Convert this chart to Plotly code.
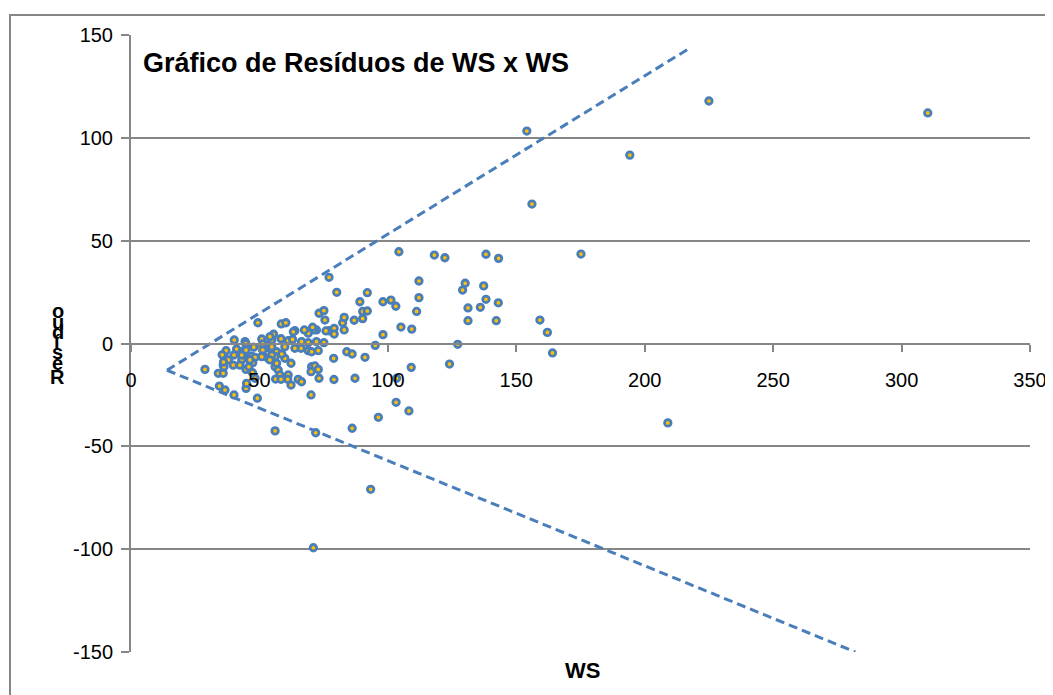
import plotly.graph_objects as go

# ---- data ----
ws = [
    310.2, 225.0, 194.2, 154.1, 156.1, 175.2, 209.0, 164.1, 162.1, 159.2,
    104.3, 118.1, 122.2, 138.2, 143.1, 112.1, 130.1, 129.1, 137.3, 112.1,
    138.2, 143.0, 98.1, 101.2, 103.1, 111.2, 131.2, 136.0, 98.1, 105.1,
    109.3, 131.2, 142.2, 127.2, 109.1, 124.0, 103.4, 103.2, 108.2, 96.3,
    95.1, 91.1, 92.0, 89.1, 90.2, 92.0, 90.2, 86.1, 93.3, 71.0,
    77.1, 80.1, 73.2, 75.1, 75.5, 82.4, 83.0, 86.9, 77.1, 79.1,
    79.1, 83.0, 84.0, 86.1, 87.2, 79.0, 73.2, 78.9, 70.3, 71.6,
    72.9, 70.1, 70.1, 71.9, 56.1,
    72.2, 71.1, 69.0, 67.5, 63.8, 72.2, 75.1, 69.0, 66.4, 72.9,
    69.0, 66.2, 63.8, 70.7, 70.3, 75.9,
    61.2, 58.4, 62.9, 59.9, 62.3, 56.1, 57.3, 58.0, 61.2, 61.0,
    62.3, 56.3, 58.4, 65.1, 66.4, 49.4, 58.5, 60.3, 63.2, 55.5,
    40.2, 44.4, 44.9, 41.1, 37.0, 36.6, 37.9, 35.9, 39.8, 40.1,
    43.5, 43.1, 45.7, 47.0, 47.8, 50.9, 51.3, 51.3, 53.9, 54.8,
    54.4, 51.5, 48.3, 47.4, 44.8, 45.9, 56.7, 56.1, 53.4, 59.9,
    58.7,
    28.8, 34.0, 35.9, 34.4, 36.6, 40.1, 49.2, 44.8, 45.0, 48.3,
    47.3,
    43.1, 44.8, 36.2, 46.3, 42.4, 54.1, 54.8, 54.8, 50.9, 54.1,
    56.7, 35.5, 36.0, 44.7,
]
residuo = [
    112.1, 117.9, 91.6, 103.3, 67.8, 43.5, -38.6, -4.6, 5.4, 11.4,
    44.6, 43.0, 41.7, 43.4, 41.4, 30.4, 29.3, 26.0, 28.0, 22.3,
    21.5, 19.8, 20.3, 21.1, 18.1, 15.6, 17.3, 17.6, 4.3, 8.0,
    7.0, 11.1, 11.1, -0.4, -11.6, -10.0, -16.9, -28.6, -32.8, -35.9,
    -0.9, -6.7, 24.7, 20.3, 15.6, 15.8, 12.1, -41.2, -70.9, -99.3,
    32.2, 24.9, 14.7, 16.0, 11.4, 10.1, 12.7, 11.3, 6.2, 7.4,
    4.6, 6.6, -4.0, -5.1, -16.9, -17.5, -16.9, -7.2, -11.3, -10.9,
    -12.6, -13.7, -25.0, -43.4, -42.5,
    6.6, 6.6, 5.0, 6.6, 6.2, 0.9, 0.4, 0.4, 0.9, -3.5,
    -3.5, -2.3, -2.3, 7.9, -4.0, 6.1,
    1.4, 2.3, 2.0, -7.2, -9.6, -11.3, -12.9, -15.3, -15.3, -17.4,
    -20.2, -17.3, -17.4, -17.4, -18.6, 10.1, 9.5, 10.1, 5.7, 4.5,
    1.7, 0.9, -1.6, -2.7, -3.5, -7.2, -8.0, -10.5, -10.5, -5.6,
    -4.0, -8.0, -7.2, -6.1, -1.8, 2.2, -0.2, -3.2, -0.2, 1.7,
    -2.8, -6.1, -6.7, -9.3, -12.6, -11.3, -4.0, -6.4, -7.2, -1.6,
    -5.1,
    -12.6, -14.5, -14.5, -20.7, -22.6, -25.0, -26.6, -21.8, -19.4, -16.9,
    -14.2,
    -5.6, -3.2, -11.3, -8.0, -10.5, 3.3, -1.6, -5.6, -6.4, -8.0,
    -9.6, -5.5, -9.0, 0.0,
]

upper_x = [14, 218]
upper_y = [-13, 144]
lower_x = [14, 282]
lower_y = [-13, -150]

x_ticks = [0, 50, 100, 150, 200, 250, 300, 350]
y_ticks = [-150, -100, -50, 0, 50, 100, 150]

title_text = "Gráfico de Resíduos de WS x WS"
x_title = "WS"
y_title = "Resíduo"

# ---- style ----
BLUE = "#4A7EBB"
YELLOW = "#FFC000"
GRID = "#868686"
FONT = "Liberation Sans, Arial, sans-serif"

OFF = 8  # default page body margin in the written html
W, H = 1053 - OFF, 695 - OFF
ML, MR, MT, MB = 131 - OFF, 23, 35 - OFF, 43
PW = W - ML - MR
PH = H - MT - MB

fig = go.Figure()
for lx, ly in ((upper_x, upper_y), (lower_x, lower_y)):
    fig.add_trace(go.Scatter(
        x=lx, y=ly, mode="lines",
        line=dict(color=BLUE, width=3, dash="9px,5px"),
        hoverinfo="skip", showlegend=False, cliponaxis=False,
    ))

fig.add_trace(go.Scatter(
    x=ws, y=residuo, mode="markers",
    marker=dict(symbol="circle", size=6.5, color=YELLOW,
                line=dict(color=BLUE, width=2.8)),
    showlegend=False, cliponaxis=False,
))

fig.update_layout(
    width=W, height=H,
    margin=dict(l=ML, r=MR, t=MT, b=MB, autoexpand=False),
    paper_bgcolor="white", plot_bgcolor="white",
    font=dict(family=FONT, color="black", size=20),
    showlegend=False,
)

fig.update_xaxes(
    range=[0, 350], tickvals=x_ticks, ticktext=[str(v) for v in x_ticks],
    showgrid=False, zeroline=False,
    showline=True, linecolor=GRID, linewidth=2,
    ticks="outside", ticklen=7, tickwidth=2, tickcolor=GRID,
    anchor="free", position=0.5, ticklabelstandoff=11,
    tickfont=dict(size=20, family=FONT, color="black"),
)
fig.update_yaxes(
    range=[-150, 150], tickvals=y_ticks, ticktext=[str(v) for v in y_ticks],
    showgrid=True, gridcolor=GRID, gridwidth=2, zeroline=False,
    showline=True, linecolor=GRID, linewidth=2,
    ticks="outside", ticklen=8, tickwidth=2, tickcolor=GRID,
    ticklabelstandoff=4,
    tickfont=dict(size=20, family=FONT, color="black"),
)

# helpers: window pixel -> paper fraction
def px_x(px):
    return (px - OFF - ML) / PW

def px_y(py):
    return (OFF + H - MB - py) / PH

# outer chart frame
fig.add_shape(type="rect", xref="paper", yref="paper",
              x0=px_x(10), x1=px_x(1100), y0=px_y(760), y1=px_y(15),
              line=dict(color=GRID, width=2), fillcolor="rgba(0,0,0,0)",
              layer="below")

# chart title
fig.add_annotation(text="<b>" + title_text + "</b>", xref="paper", yref="paper",
                   x=px_x(141), y=px_y(63), xanchor="left", yanchor="middle",
                   showarrow=False, font=dict(size=27, family=FONT, color="black"))

# x axis title
fig.add_annotation(text="<b>" + x_title + "</b>", xref="paper", yref="paper",
                   x=px_x(582), y=px_y(670), xanchor="center", yanchor="middle",
                   showarrow=False, font=dict(size=22, family=FONT, color="black"))

# y axis title (glyphs stacked upright, as in the reference)
letters = list(y_title)[::-1]  # o u d í s e R from top
tops = [311, 322, 332, 342, 352, 363, 377]
for ch, py in zip(letters, tops):
    fig.add_annotation(text="<b>" + ch + "</b>", xref="paper", yref="paper",
                       x=px_x(57.5), y=px_y(py), xanchor="center", yanchor="middle",
                       showarrow=False, font=dict(size=20, family=FONT, color="black"))

fig.write_html("out.html", config={"displayModeBar": False})
